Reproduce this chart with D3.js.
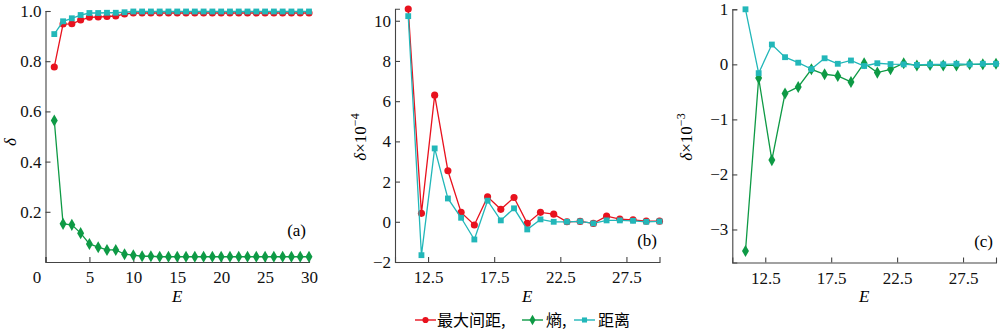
<!DOCTYPE html>
<html><head><meta charset="utf-8">
<script src="https://cdn.jsdelivr.net/npm/d3@7"></script>
<style>
body{margin:0;background:#fff;}
svg{display:block;}
</style></head>
<body><svg id="c" width="1000" height="330"></svg>
<script>
// ---------- data ----------
const xA = [1,2,3,4,5,6,7,8,9,10,11,12,13,14,15,16,17,18,19,20,21,22,23,24,25,26,27,28,29,30];
const redA = [0.777,0.948,0.949,0.964,0.975,0.976,0.978,0.980,0.988,0.992,0.992,0.992,0.992,0.992,0.992,0.992,0.992,0.992,0.992,0.992,0.992,0.992,0.992,0.992,0.992,0.992,0.992,0.992,0.992,0.992];
const greenA = [0.564,0.152,0.148,0.115,0.072,0.059,0.048,0.048,0.031,0.027,0.023,0.023,0.021,0.021,0.021,0.021,0.021,0.021,0.021,0.021,0.021,0.021,0.021,0.021,0.021,0.021,0.021,0.021,0.021,0.021];
const cyanA = [0.908,0.959,0.971,0.984,0.992,0.992,0.993,0.993,0.995,0.998,0.998,0.998,0.998,0.998,0.998,0.998,0.998,0.998,0.998,0.998,0.998,0.998,0.998,0.998,0.998,0.998,0.998,0.998,0.998,0.998];

const xB = [11,12,13,14,15,16,17,18,19,20,21,22,23,24,25,26,27,28,29,30];
const redB = [10.58,0.42,6.30,2.54,0.47,-0.16,1.24,0.62,1.21,-0.08,0.47,0.38,0.00,0.02,-0.08,0.28,0.13,0.10,0.03,0.03];
const cyanB = [10.23,-1.66,3.65,1.16,0.20,-0.88,1.05,0.07,0.67,-0.38,0.12,0.00,0.00,0.02,-0.08,0.07,0.07,0.05,0.00,0.02];

const xC = [11,12,13,14,15,16,17,18,19,20,21,22,23,24,25,26,27,28,29,30];
const greenC = [-3.39,-0.25,-1.74,-0.53,-0.41,-0.09,-0.18,-0.21,-0.32,0.02,-0.15,-0.09,0.02,-0.02,-0.01,-0.02,-0.02,0.00,0.00,0.01];
const cyanC = [1.00,-0.16,0.36,0.13,0.03,-0.085,0.11,0.01,0.07,-0.03,0.02,0.005,0.00,-0.01,0.00,0.00,0.01,0.00,0.01,0.01];

const ticksAx = [0,5,10,15,20,25,30];
const ticksAy = [0.2,0.4,0.6,0.8,1.0];
const ticksBx = [12.5,17.5,22.5,27.5];
const ticksBy = [-2,0,2,4,6,8,10];
const ticksCx = [12.5,17.5,22.5,27.5];
const ticksCy = [-3,-2,-1,0,1];

const legendNames = ["最大间距,", "熵,", "距离"];
// ---------- style ----------
const RED = "#e8121e", GREEN = "#0e9a45", CYAN = "#22b7b9";
const svg = d3.select("#c");
const serif = "'Liberation Serif'";
const minus = s => String(s).replace("-", "\u2212");

function panel(o){
  const x = d3.scaleLinear().domain(o.xd).range(o.xr);
  const y = d3.scaleLinear().domain(o.yd).range(o.yr);
  const g = svg.append("g");
  const ax = g.append("g").attr("transform",`translate(0,${o.yr[0]})`)
    .call(d3.axisBottom(x).tickValues(o.xt).tickSizeInner(-5).tickSizeOuter(-5).tickPadding(9).tickFormat(o.xf));
  const ay = g.append("g").attr("transform",`translate(${o.xr[0]},0)`)
    .call(d3.axisLeft(y).tickValues(o.yt).tickSizeInner(-5).tickSizeOuter(-5).tickPadding(4).tickFormat(o.yf));
  [ax,ay].forEach(a=>{
    a.attr("font-family",serif).attr("font-size",17);
    a.selectAll(".tick text").attr("font-family",serif).attr("font-size",17).attr("fill","#111");
    a.selectAll("path,line").attr("stroke","#444").attr("stroke-width",1.1);
  });
  ax.selectAll(".tick text").attr("dy","0.71em");
  if(o.shift0) ax.selectAll(".tick text").filter(d=>d===0).attr("dx",-9);
  o.series.forEach(s=>{
    const pts = s.xs.map((v,i)=>[x(v), y(s.ys[i])]);
    g.append("path").attr("d", d3.line()(pts)).attr("fill","none").attr("stroke",s.c).attr("stroke-width",1.3);
    g.selectAll(null).data(pts).enter().append("path")
      .attr("transform",d=>`translate(${d[0]},${d[1]})`)
      .attr("d", d3.symbol().type(s.sym).size(s.size)).attr("fill",s.c);
  });
  g.append("text").attr("x",(o.xr[0]+o.xr[1])/2).attr("y",302).attr("text-anchor","middle")
    .attr("font-family",serif).attr("font-style","italic").attr("font-size",17).text("E");
  g.append("text").attr("x",o.lab[0]).attr("y",o.lab[1]).attr("text-anchor","end")
    .attr("font-family",serif).attr("font-size",17).text(o.label);
  const yl = g.append("text").attr("transform",`translate(${o.yl[0]},${o.yl[1]}) rotate(-90)`)
    .attr("text-anchor","middle").attr("font-family",serif).attr("font-size",17);
  yl.append("tspan").attr("font-style","italic").text("δ");
  if(o.exp){
    yl.append("tspan").text("×10");
    yl.append("tspan").attr("font-size",12).attr("dy",-7).text(o.exp);
  }
}

const sq = {sym:d3.symbolSquare,size:34,c:CYAN};
const ci = {sym:d3.symbolCircle,size:40,c:RED};
const di = {sym:d3.symbolDiamond,size:42,c:GREEN};

panel({xd:[0,30], xr:[45.5,309], yd:[0,1], yr:[262,11], xt:ticksAx, yt:ticksAy,
  xf:d=>d, yf:d3.format(".1f"), shift0:true, lab:[306,236], label:"(a)", yl:[16,142],
  series:[{...ci,xs:xA,ys:redA},{...di,xs:xA,ys:greenA},{...sq,xs:xA,ys:cyanA}]});
panel({xd:[10,30], xr:[395,659.5], yd:[-2,10.6], yr:[262,8.7], xt:ticksBx, yt:ticksBy,
  xf:d=>d, yf:minus, lab:[657,246], label:"(b)", yl:[366,137], exp:"\u22124",
  series:[{...ci,xs:xB,ys:redB},{...sq,xs:xB,ys:cyanB}]});
panel({xd:[10,30], xr:[732.3,996], yd:[-3.6,1], yr:[262.5,9.3], xt:ticksCx, yt:ticksCy,
  xf:d=>d, yf:minus, lab:[993,247], label:"(c)", yl:[692,137], exp:"\u22123",
  series:[{...di,xs:xC,ys:greenC},{...sq,xs:xC,ys:cyanC}]});

// legend
const leg = [{c:RED,sym:d3.symbolCircle,size:30,x:415,tx:437},
             {c:GREEN,sym:d3.symbolDiamond,size:32,x:522,tx:546},
             {c:CYAN,sym:d3.symbolSquare,size:26,x:574,tx:598}];
leg.forEach((l,i)=>{
  svg.append("line").attr("x1",l.x).attr("x2",l.x+21).attr("y1",320).attr("y2",320).attr("stroke",l.c).attr("stroke-width",1.4);
  svg.append("path").attr("transform",`translate(${l.x+10.5},320)`).attr("d",d3.symbol().type(l.sym).size(l.size)).attr("fill",l.c);
  svg.append("text").attr("x",l.tx).attr("y",326).attr("font-family","'Noto Sans CJK SC'").attr("font-size",16).text(legendNames[i]);
});
</script></body></html>
